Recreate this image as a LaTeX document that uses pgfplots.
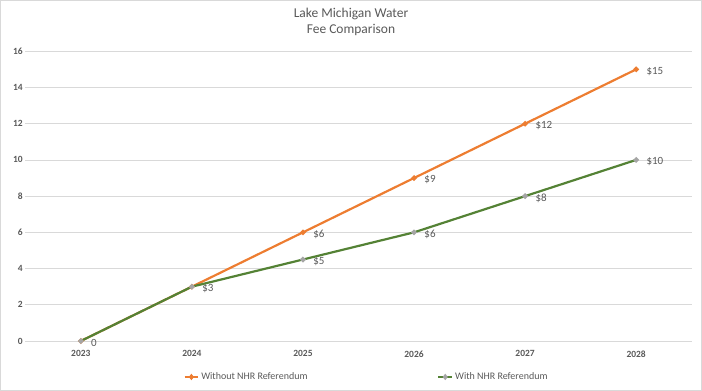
\documentclass[border=0pt]{standalone}
\usepackage{pgfplots}
\pgfplotsset{compat=1.18}
\usepackage{fontspec}
\setmainfont{Carlito}
\definecolor{txt}{HTML}{595959}
\definecolor{gridc}{HTML}{D9D9D9}
\definecolor{orng}{HTML}{ED7D31}
\definecolor{grn}{HTML}{548235}
\definecolor{gry}{HTML}{A5A5A5}
\begin{document}
\begin{tikzpicture}
\begin{axis}[
  at={(0,0)}, anchor=south west,
  scale only axis, width=667bp, height=290bp,
  xmin=-0.5, xmax=5.5, ymin=0, ymax=16,
  xtick={0,1,2,3,4,5},
  xticklabels={2023,2024,2025,2026,2027,2028},
  ytick={0,2,...,16},
  xmajorgrids=false, ymajorgrids=true, grid style={draw=gridc, line width=0.8pt},
  axis line style={draw=none}, tick style={draw=none},
  ticklabel style={font=\fontsize{9.5bp}{11bp}\selectfont\bfseries, text=txt},
  /pgf/number format/assume math mode=true,
  xticklabel style={yshift=-6bp},
  yticklabel style={xshift=1bp},
  legend style={at={(0.5,0)}, anchor=center, yshift=-36bp, xshift=8bp, draw=none, fill=none,
    legend columns=2, font=\fontsize{10bp}{12bp}\selectfont, text=txt,
    /tikz/every even column/.append style={column sep=128bp}},
  legend image post style={xscale=0.8},
  legend cell align=left,
  nodes near coords style={font=\fontsize{11bp}{13bp}\selectfont, text=txt, anchor=west, xshift=6bp, yshift=-2bp},
]
\addplot[orng, line width=2.2pt, mark=*, mark size=1.5pt, mark options={fill=orng, draw=orng},
  nodes near coords, point meta=explicit symbolic]
  table[meta=lab] {
x y lab
0 0 {}
1 3 {}
2 6 \$6
3 9 \$9
4 12 \$12
5 15 \$15
};
\addlegendentry{Without NHR Referendum}
\addplot[grn, line width=2.2pt, mark=*, mark size=1.5pt, mark options={fill=gry, draw=gry},
  nodes near coords, point meta=explicit symbolic]
  table[meta=lab] {
x y lab
0 0 0
1 3 \$3
2 4.5 \$5
3 6 \$6
4 8 \$8
5 10 \$10
};
\addlegendentry{With NHR Referendum}
\end{axis}
\node[font=\fontsize{13.5bp}{16bp}\selectfont, text=txt, align=center] at (326bp,319bp) {Lake Michigan Water\\Fee Comparison};
\draw[gridc, line width=0.6pt, use as bounding box] (-25bp,-49bp) rectangle (677bp,341bp);
\end{tikzpicture}
\end{document}
